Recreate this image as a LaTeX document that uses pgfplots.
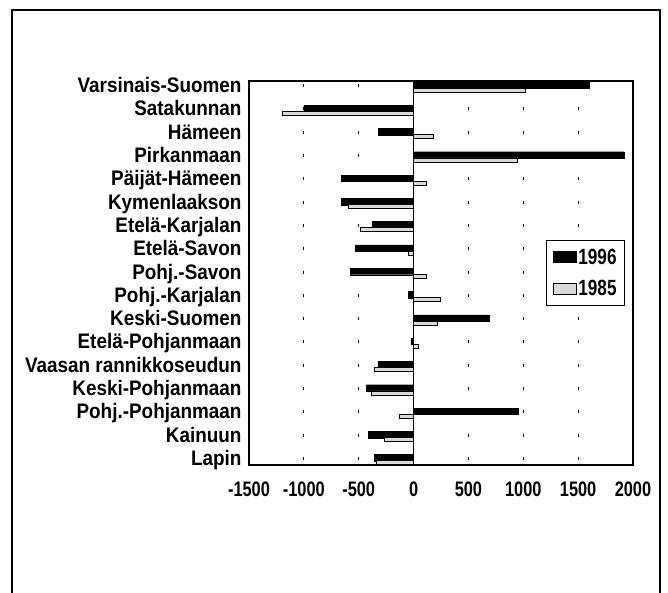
\documentclass[border=0pt]{standalone}
\usepackage{fontspec}
\setmainfont{Liberation Sans}[FakeStretch=0.9]
\newfontfamily\tickfont{Liberation Sans}[FakeStretch=0.78]
\usepackage{pgfplots}
\pgfplotsset{compat=1.18}
\begin{document}
\begin{tikzpicture}[x=1pt,y=1pt]
\begin{axis}[
  name=ax,
  width=384pt, height=384pt, scale only axis,
  xmin=-1500, xmax=2000, ymin=-0.22, ymax=16.26,
  xtick={-1500,-1000,...,2000},
  ytick={0,...,16},
  yticklabels={Lapin,Kainuun,Pohj.-Pohjanmaan,Keski-Pohjanmaan,Vaasan rannikkoseudun,Etelä-Pohjanmaan,Keski-Suomen,Pohj.-Karjalan,Pohj.-Savon,Etelä-Savon,Etelä-Karjalan,Kymenlaakson,Päijät-Hämeen,Pirkanmaan,Hämeen,Satakunnan,Varsinais-Suomen},
  typeset ticklabels with strut,
  major tick length=0pt,
  axis line style={line width=1.5pt},
  xmajorgrids, major grid style={black, line width=1pt, dash pattern=on 3pt off 20.3pt, dash phase=-5pt},
  xticklabel style={font=\tickfont\bfseries\fontsize{21}{23}\selectfont, yshift=-12pt},
  yticklabel style={font=\bfseries\fontsize{21}{23}\selectfont, xshift=-4pt, yshift=-1pt},
  /pgf/number format/assume math mode=true,
  /pgf/number format/set thousands separator={},
  xbar,
  legend style={at={(0.773,0.586)}, anchor=north west, draw=black, line width=1.5pt,
    font=\tickfont\bfseries\fontsize{22}{24}\selectfont, row sep=11pt, inner sep=6pt,
    cells={anchor=west}},
  legend image code/.code={\draw[#1, line width=0.8pt] (0pt,-5pt) rectangle (23pt,6pt);},
]
\addplot[fill=black, draw=black, bar width=6.5pt, bar shift=2pt] coordinates {
(1600,16) (-1000,15) (-320,14) (1920,13) (-660,12) (-660,11) (-380,10) (-530,9) (-575,8) (-45,7) (690,6) (-25,5) (-325,4) (-430,3) (955,2) (-415,1) (-355,0)};
\addlegendentry{1996}
\addplot[fill=gray!30, draw=black, line width=0.8pt, bar width=4pt, bar shift=-3pt] coordinates {
(1020,16) (-1200,15) (185,14) (950,13) (115,12) (-595,11) (-485,10) (-45,9) (115,8) (245,7) (215,6) (40,5) (-355,4) (-385,3) (-130,2) (-265,1) (-340,0)};
\addlegendentry{1985}
\draw[line width=1.5pt] (axis cs:0,-0.22) -- (axis cs:0,16.26);
\end{axis}
\pgfresetboundingbox
\path[use as bounding box] (ax.south west) ++(-249,-128) rectangle ++(668,593);
\draw[line width=1.5pt] (ax.south west) ++(-237,-128) -- ++(0,583) -- ++(648,0) -- ++(0,-583);
\end{tikzpicture}
\end{document}
